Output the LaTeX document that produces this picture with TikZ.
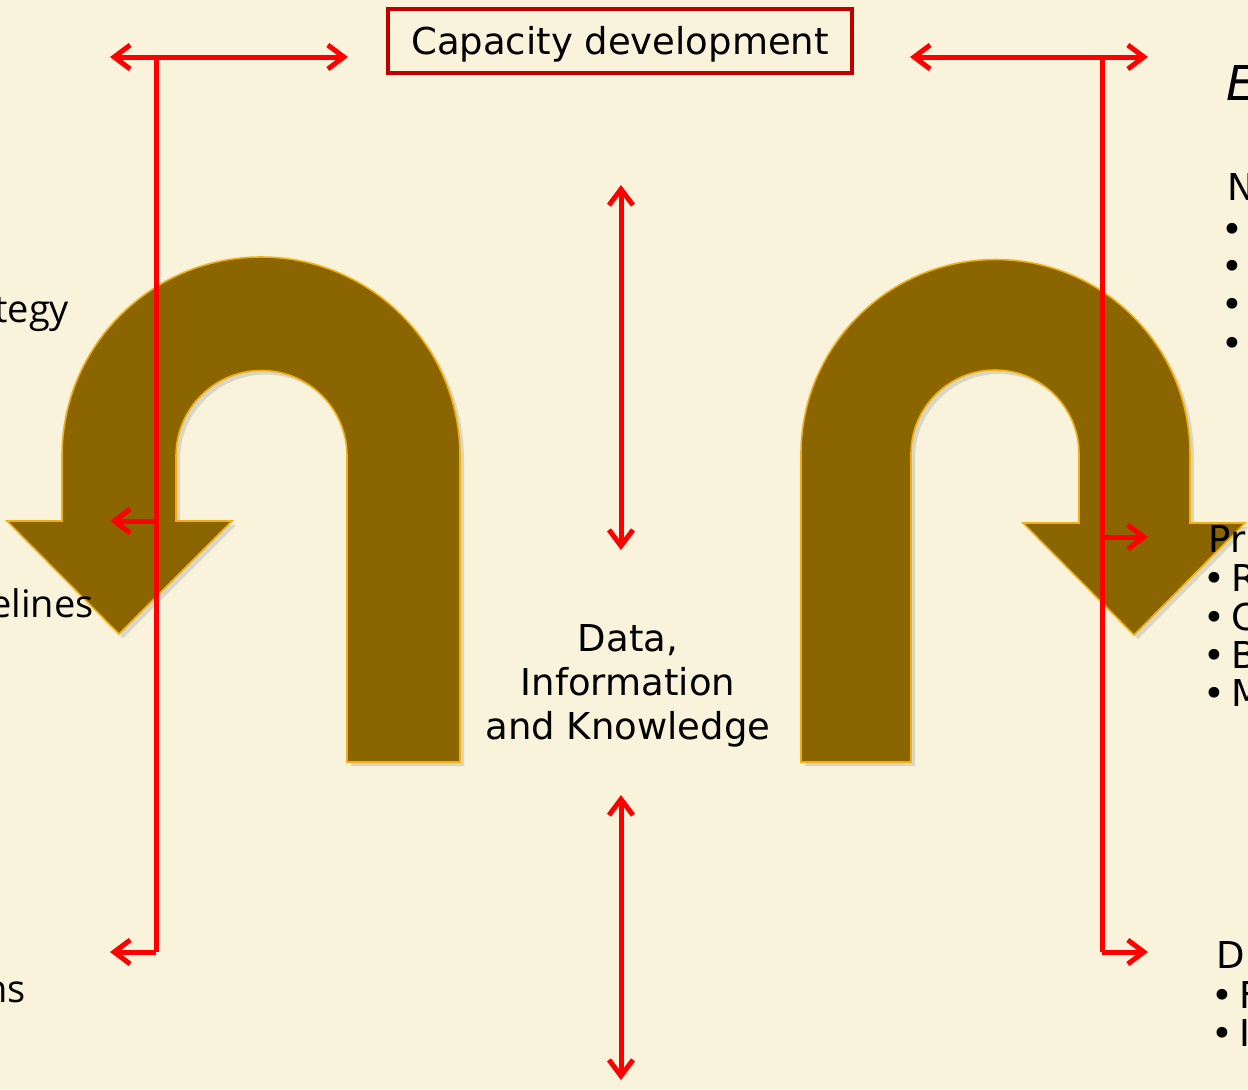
\documentclass[tikz,border=0pt]{standalone}
\usepackage{fontspec}
\setmainfont{DejaVu Sans}
\newfontfamily\sidefont{Open Sans}
\usetikzlibrary{arrows.meta,shadows,positioning}
\definecolor{fond}{RGB}{249,243,220}
\definecolor{brun}{RGB}{139,101,0}
\definecolor{bordor}{RGB}{240,176,20}
\definecolor{rougebox}{RGB}{192,0,0}
\tikzset{
  uturn/.style={fill=brun, draw=bordor, line width=0.8pt, line join=miter,
    drop shadow={opacity=0.25, shadow xshift=2pt, shadow yshift=-2pt}},
  redline/.style={red, line width=2.5pt},
  redarrow/.style={redline, -{Straight Barb[length=8pt,width=12pt]}},
  redboth/.style={redline, {Straight Barb[length=8pt,width=12pt]}-{Straight Barb[length=8pt,width=12pt]}},
  capbox/.style={draw=rougebox, line width=2pt, fill=fond, minimum width=232pt, minimum height=32pt, inner sep=0pt, text depth=0pt},
  txt/.style={font=\fontsize{18.5}{22}\selectfont, text=black},
  sidetxt/.style={font=\sidefont\fontsize{19}{22}\selectfont, text=black, anchor=base west, inner sep=0pt},
  righttxt/.style={txt, anchor=base west, inner sep=0pt},
  puce/.style={txt, anchor=base, inner sep=0pt}
}
\begin{document}
\begin{tikzpicture}[x=0.5pt,y=-0.5pt]
        \useasboundingbox (0,0) rectangle (1248,1089);
        \fill[fond] (0,0) rectangle (1248,1089);
        \clip (0,0) rectangle (1248,1089);

        % les deux fleches en U
        \draw[uturn] (460,762) -- (460,456) arc[start angle=0, end angle=-180, radius=199]
            -- (62,521) -- (7,521) -- (119,634) -- (232,521) -- (176,521) -- (176,456)
            arc[start angle=-180, end angle=0, radius=85.5] -- (347,762) -- cycle;
        \draw[uturn] (801,762) -- (801,454) arc[start angle=-180, end angle=0, radius=194.5]
            -- (1190,523) -- (1245,523) -- (1134,635) -- (1023,523) -- (1079,523) -- (1079,454)
            arc[start angle=0, end angle=-180, radius=84] -- (911,762) -- cycle;

        % textes coupes a gauche
        \node[sidetxt] (strat) at (-6,322) {tegy};
        \node[sidetxt] (guide) at (-10,617) {elines};
        \node[sidetxt] (plans) at (-16,1002) {ns};

        % textes coupes a droite
        \node[righttxt, font=\itshape\fontsize{24}{28}\selectfont] (rE) at (1226,100) {E};
        \node[righttxt] (rN) at (1227,200) {N};
        \foreach \y [count=\i] in {242,279,317,356}
            \node[puce] (nb\i) at (1232,\y) {\textbullet};
        \node[righttxt] (rP) at (1208,552) {Pr};
        \foreach \y/\l [count=\i] in {591/R,630/C,668/B,706/M}{
            \node[puce] (pbp\i) at (1214,\y) {\textbullet};
            \node[righttxt] (pb\i) at (1231,\y) {\l};
        }
        \node[righttxt] (rD) at (1216,968) {D};
        \foreach \y/\l [count=\i] in {1008/F,1046/I}{
            \node[puce] (dbp\i) at (1222,\y) {\textbullet};
            \node[righttxt] (db\i) at (1239,\y) {\l};
        }

        % points des fleches rouges
        \coordinate (LA) at (110,57);
        \coordinate (LB) at (348,57);
        \coordinate (LT) at (156,57);
        \coordinate (LM) at (156,521);
        \coordinate (LD) at (156,952);
        \coordinate (LMo) at (110,521);
        \coordinate (LDo) at (110,952);
        \coordinate (RA) at (910,57);
        \coordinate (RB) at (1148,57);
        \coordinate (RT) at (1102,57);
        \coordinate (RM) at (1102,537);
        \coordinate (RD) at (1102,952);
        \coordinate (RMo) at (1148,537);
        \coordinate (RDo) at (1148,952);
        \coordinate (C1) at (621,185);
        \coordinate (C2) at (621,550);
        \coordinate (C3) at (621,795);
        \coordinate (C4) at (621,1080);

        \draw[redboth] (LA) -- (LB);
        \draw[redline] (LT) -- (LD);
        \draw[redarrow] (LM) -- (LMo);
        \draw[redarrow] (LD) -- (LDo);
        \draw[redboth] (RA) -- (RB);
        \draw[redline] (RT) -- (RD);
        \draw[redarrow] (RM) -- (RMo);
        \draw[redarrow] (RD) -- (RDo);
        \draw[redboth] (C1) -- (C2);
        \draw[redboth] (C3) -- (C4);

        \node[capbox, txt] (cap) at (620,40.5) {Capacity development};
        \node[txt, align=center] (dik) at (628,686) {Data,\\Information\\and Knowledge};
\end{tikzpicture}
\end{document}
